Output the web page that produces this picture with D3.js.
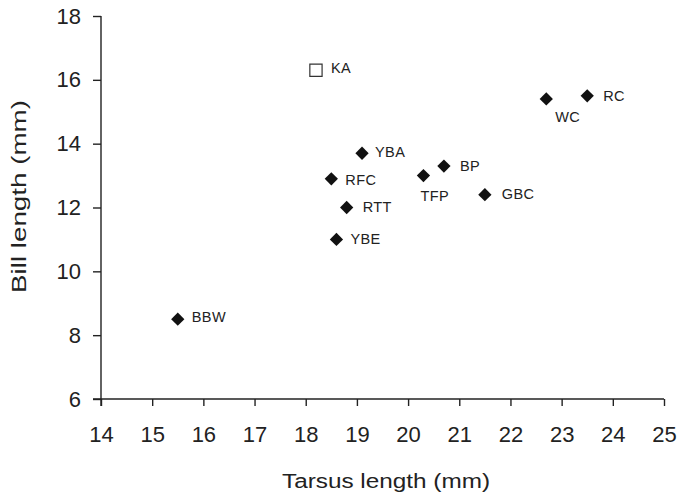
<!DOCTYPE html>
<html>
<head>
<meta charset="utf-8">
<script src="https://cdn.jsdelivr.net/npm/d3@7"></script>
<style>
  body { margin: 0; background: #fff; }
  text { font-family: "Liberation Sans", Arial, sans-serif; fill: #222; }
</style>
</head>
<body>
<div id="root"></div>
<script>
// data
const species = ["KA", "YBA", "RFC", "RTT", "YBE", "TFP", "BP", "GBC", "WC", "RC", "BBW"];
const tarsus = [18.2, 19.1, 18.5, 18.8, 18.6, 20.3, 20.7, 21.5, 22.7, 23.5, 15.5];
const bill = [16.3, 13.7, 12.9, 12.0, 11.0, 13.0, 13.3, 12.4, 15.4, 15.5, 8.5];
const openMarker = ["KA"];
const xTicks = [14, 15, 16, 17, 18, 19, 20, 21, 22, 23, 24, 25];
const yTicks = [6, 8, 10, 12, 14, 16, 18];

// where each label sits relative to its marker
const labelOffset = {
  KA: [15, 3], YBA: [13, 4], RFC: [14, 6], RTT: [16, 4], YBE: [14, 5],
  TFP: [-3, 25], BP: [16, 5], GBC: [17, 4], WC: [9, 23], RC: [16, 5], BBW: [14, 3]
};

const width = 678;
const height = 499;

const svg = d3.select("#root")
  .append("svg")
  .attr("width", width)
  .attr("height", height);

const x = d3.scaleLinear().domain([14, 25]).range([101, 664]);
const y = d3.scaleLinear().domain([6, 18]).range([399, 16]);

// axes
const xAxis = svg.append("g")
  .attr("transform", `translate(0,${y(6)})`)
  .call(d3.axisBottom(x).tickValues(xTicks).tickSize(7).tickSizeOuter(0).tickPadding(20));
const yAxis = svg.append("g")
  .attr("transform", `translate(${x(14)},0)`)
  .call(d3.axisLeft(y).tickValues(yTicks).tickSize(8).tickSizeOuter(0).tickPadding(12));

[xAxis, yAxis].forEach((ax) => {
  ax.select(".domain").attr("stroke", "#222").attr("stroke-width", 1.4);
  ax.selectAll(".tick line").attr("stroke", "#222").attr("stroke-width", 1.4);
  ax.selectAll(".tick text")
    .attr("fill", "#222")
    .style("font-size", "22px")
    .style("font-family", "'Liberation Sans', Arial, sans-serif");
});
// axis lines run past the corner like the original
yAxis.select(".domain").attr("d", `M0,${y(18)}V${y(6) + 7}`);
xAxis.select(".domain").attr("d", `M${x(14) - 8},0H${x(25)}`);

// axis titles (the original type is set wide)
svg.append("text")
  .attr("x", 386)
  .attr("y", 488)
  .attr("text-anchor", "middle")
  .attr("textLength", 208)
  .attr("lengthAdjust", "spacingAndGlyphs")
  .style("font-size", "20px")
  .text("Tarsus length (mm)");

svg.append("text")
  .attr("transform", "translate(25.5,196.5) rotate(-90)")
  .attr("text-anchor", "middle")
  .attr("textLength", 193)
  .attr("lengthAdjust", "spacingAndGlyphs")
  .style("font-size", "20px")
  .text("Bill length (mm)");

// points
const points = species.map((name, i) => ({ name, tarsus: tarsus[i], bill: bill[i] }));

const marker = svg.selectAll("g.pt")
  .data(points)
  .enter()
  .append("g")
  .attr("class", "pt")
  .attr("transform", (d) => `translate(${x(d.tarsus)},${y(d.bill)})`);

marker.append("path")
  .attr("d", (d) => openMarker.includes(d.name)
    ? d3.symbol(d3.symbolSquare, 150)()
    : d3.symbol(d3.symbolSquare, 88)())
  .attr("transform", (d) => openMarker.includes(d.name) ? null : "rotate(45)")
  .attr("fill", (d) => openMarker.includes(d.name) ? "#fff" : "#111")
  .attr("stroke", (d) => openMarker.includes(d.name) ? "#333" : "none")
  .attr("stroke-width", 1.2);

marker.append("text")
  .attr("x", (d) => labelOffset[d.name][0])
  .attr("y", (d) => labelOffset[d.name][1])
  .style("font-size", "14.5px")
  .style("letter-spacing", "0.4px")
  .text((d) => d.name);
</script>
</body>
</html>
